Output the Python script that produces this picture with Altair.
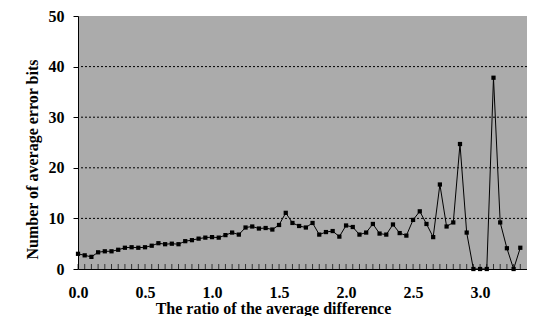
import altair as alt
import pandas as pd

ratio = [0.00, 0.05, 0.10, 0.15, 0.20, 0.25, 0.30, 0.35, 0.40, 0.45,
         0.50, 0.55, 0.60, 0.65, 0.70, 0.75, 0.80, 0.85, 0.90, 0.95,
         1.00, 1.05, 1.10, 1.15, 1.20, 1.25, 1.30, 1.35, 1.40, 1.45,
         1.50, 1.55, 1.60, 1.65, 1.70, 1.75, 1.80, 1.85, 1.90, 1.95,
         2.00, 2.05, 2.10, 2.15, 2.20, 2.25, 2.30, 2.35, 2.40, 2.45,
         2.50, 2.55, 2.60, 2.65, 2.70, 2.75, 2.80, 2.85, 2.90, 2.95,
         3.00, 3.05, 3.10, 3.15, 3.20, 3.25, 3.30]
error_bits = [3.0, 2.7, 2.4, 3.3, 3.5, 3.5, 3.8, 4.2, 4.3, 4.2,
              4.3, 4.6, 5.1, 4.9, 5.0, 4.9, 5.5, 5.7, 6.0, 6.2,
              6.3, 6.2, 6.7, 7.2, 6.8, 8.2, 8.4, 8.0, 8.1, 7.8,
              8.7, 11.1, 9.1, 8.5, 8.2, 9.1, 6.8, 7.3, 7.5, 6.4,
              8.6, 8.3, 6.8, 7.2, 8.9, 7.0, 6.8, 8.8, 7.1, 6.6,
              9.7, 11.4, 8.9, 6.3, 16.7, 8.4, 9.2, 24.7, 7.2, 0.0,
              0.0, 0.0, 37.8, 9.2, 4.1, 0.0, 4.2]
grid_values = [10, 20, 30, 40]
x_tick_labels = [0.0, 0.5, 1.0, 1.5, 2.0, 2.5, 3.0]
y_tick_labels = [0, 10, 20, 30, 40, 50]

df = pd.DataFrame({"ratio": ratio, "bits": error_bits})
grid_df = pd.DataFrame({"g": grid_values})

FONT = "Liberation Serif"

xscale = alt.Scale(domain=[0, 3.35], nice=False, zero=False)
yscale = alt.Scale(domain=[0, 50], nice=False)

xaxis = alt.Axis(values=x_tick_labels, format=".1f", tickSize=0, labelPadding=15,
                 domainColor="black", grid=False, labelFont=FONT, labelFontSize=16,
                 labelFontWeight="bold", labelColor="black",
                 title="The ratio of the average difference",
                 titleFont=FONT, titleFontSize=16, titleFontWeight="bold",
                 titleColor="black", titlePadding=0, titleX=195, titleAlign="center",
                 labelFlush=False)
yaxis = alt.Axis(values=y_tick_labels, tickSize=5, tickColor="black", labelPadding=9,
                 domainColor="black", grid=False, labelFont=FONT, labelFontSize=16,
                 labelFontWeight="bold", labelColor="black",
                 title="Number of average error bits",
                 titleFont=FONT, titleFontSize=16, titleFontWeight="bold",
                 titleColor="black", titlePadding=8, titleY=143, titleAlign="center")

line = alt.Chart(df).mark_line(color="black", strokeWidth=1).encode(
    x=alt.X("ratio:Q", scale=xscale, axis=xaxis),
    y=alt.Y("bits:Q", scale=yscale, axis=yaxis),
)

grid = alt.Chart(grid_df).mark_rule(color="black", strokeDash=[2, 2], strokeWidth=1).encode(
    y=alt.Y("g:Q", scale=yscale, axis=yaxis)
)

small_ticks = alt.Chart(df).mark_tick(color="black", thickness=1, size=5, yOffset=-2.5).encode(
    x=alt.X("ratio:Q", scale=xscale, axis=xaxis),
    y=alt.YDatum(0),
)

points = alt.Chart(df).mark_point(shape="square", filled=True, color="black", size=18, opacity=1).encode(
    x=alt.X("ratio:Q", scale=xscale, axis=xaxis),
    y=alt.Y("bits:Q", scale=yscale, axis=yaxis),
)

chart = alt.layer(line, grid, small_ticks, points).properties(
    width=449, height=253,
    autosize=alt.AutoSizeParams(type="none"),
    padding={"left": 70, "top": 8, "right": 0, "bottom": 47},
    background="white",
).configure_view(fill="#ababab", stroke=None)

chart.save("out.html", embed_options={"renderer": "svg", "actions": False})
